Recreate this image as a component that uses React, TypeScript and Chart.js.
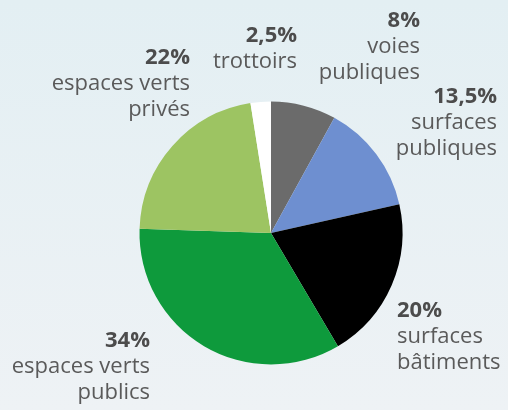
import React, { useEffect, useRef } from "react";
import { Chart, registerables } from "chart.js";

Chart.register(...registerables);

const categories = [
  "voies publiques",
  "surfaces publiques",
  "surfaces bâtiments",
  "espaces verts publics",
  "espaces verts privés",
  "trottoirs",
];
const shares = [8, 13.5, 20, 34, 22, 2.5];
const percentLabels = ["8%", "13,5%", "20%", "34%", "22%", "2,5%"];
const nameLines = [
  ["voies", "publiques"],
  ["surfaces", "publiques"],
  ["surfaces", "bâtiments"],
  ["espaces verts", "publics"],
  ["espaces verts", "privés"],
  ["trottoirs"],
];
const sliceColors = ["#6b6b6b", "#6e8fd0", "#000000", "#0e9a3c", "#9dc462", "#ffffff"];

// label anchor offsets from the pie centre, in units of the pie radius (first-line baseline)
const labelLayout = [
  { dx: 1.133, dy: -1.567, align: "right" },
  { dx: 1.719, dy: -0.989, align: "right" },
  { dx: 0.958, dy: 0.639, align: "left" },
  { dx: -0.92, dy: 0.867, align: "right" },
  { dx: -0.616, dy: -1.285, align: "right" },
  { dx: 0.198, dy: -1.452, align: "right" },
];

const FONT = "'Open Sans', sans-serif";
const FONT_SIZE = 22;
const LINE_H = 26;

const labelPlugin = {
  id: "outerLabels",
  afterDraw(chart: any) {
    const ctx = chart.ctx;
    const meta = chart.getDatasetMeta(0);
    meta.data.forEach((arc: any, i: number) => {
      const { x, y, outerRadius } = arc.getProps(["x", "y", "outerRadius"], true);
      const lay = labelLayout[i];
      const ax = x + lay.dx * outerRadius;
      let ay = y + lay.dy * outerRadius;
      ctx.save();
      ctx.textAlign = lay.align;
      ctx.textBaseline = "alphabetic";
      ctx.fillStyle = "#4c4c4c";
      ctx.font = `bold ${FONT_SIZE}px ${FONT}`;
      ctx.fillText(percentLabels[i], ax, ay);
      ctx.fillStyle = "#5a5a5a";
      ctx.font = `${FONT_SIZE}px ${FONT}`;
      nameLines[i].forEach((ln) => {
        ay += LINE_H;
        ctx.fillText(ln, ax, ay);
      });
      ctx.restore();
    });
  },
};

export default function App() {
  const canvasRef = useRef<HTMLCanvasElement | null>(null);

  useEffect(() => {
    document.body.style.margin = "0";
    const canvas = canvasRef.current;
    if (!canvas) return;
    const chart = new Chart(canvas, {
      type: "pie",
      data: {
        labels: categories,
        datasets: [
          {
            data: shares,
            backgroundColor: sliceColors,
            borderWidth: 0,
          },
        ],
      },
      options: {
        responsive: false,
        animation: false,
        layout: { padding: { left: 139.5, right: 105.5, top: 101.5, bottom: 45.5 } },
        plugins: {
          legend: { display: false },
          tooltip: { enabled: false },
        },
      },
      plugins: [labelPlugin],
    });
    return () => chart.destroy();
  }, []);

  return (
    <div
      style={{
        width: 508,
        height: 410,
        background: "linear-gradient(180deg, #e3eff3 0%, #eef2f5 100%)",
      }}
    >
      <canvas ref={canvasRef} width={508} height={410} style={{ display: "block" }} />
    </div>
  );
}
